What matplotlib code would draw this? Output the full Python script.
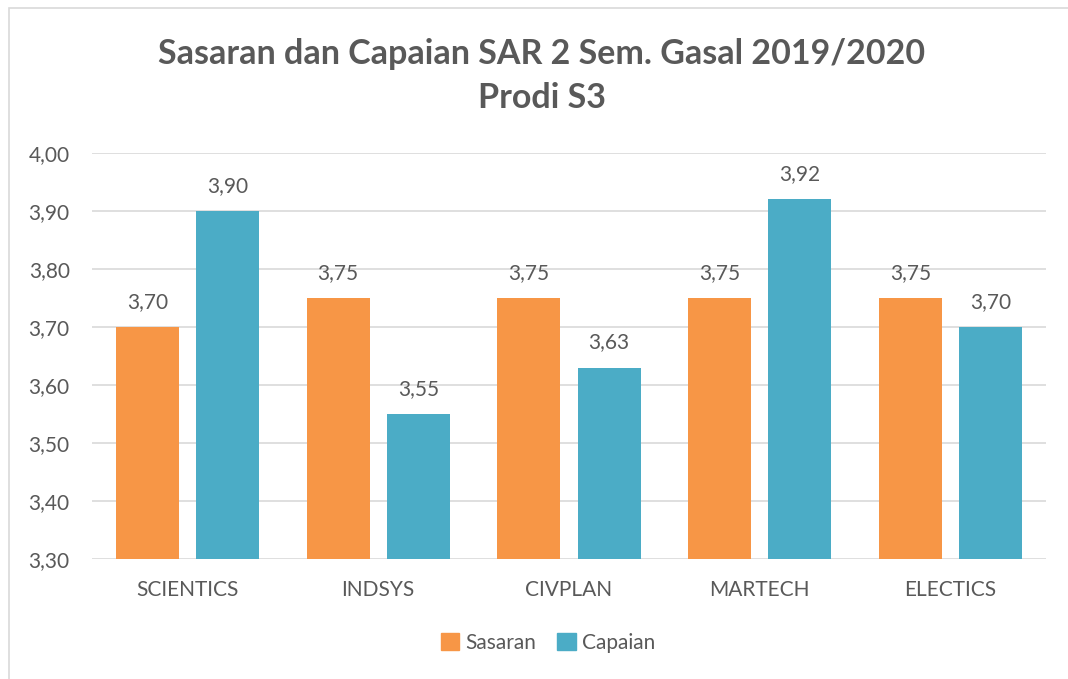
import matplotlib
matplotlib.use("Agg")
import matplotlib.pyplot as plt
from matplotlib.patches import Rectangle, Patch
import numpy as np

categories = ["SCIENTICS", "INDSYS", "CIVPLAN", "MARTECH", "ELECTICS"]
sasaran = [3.70, 3.75, 3.75, 3.75, 3.75]
capaian = [3.90, 3.55, 3.63, 3.92, 3.70]
yticks = [3.30, 3.40, 3.50, 3.60, 3.70, 3.80, 3.90, 4.00]
series_names = ["Sasaran", "Capaian"]
title = "Sasaran dan Capaian SAR 2 Sem. Gasal 2019/2020\nProdi S3"

plt.rcParams['font.family'] = ['Lato', 'DejaVu Sans']
TXT = "#595959"
ORANGE = "#F79646"
BLUE = "#4BACC6"

W, H = 1068, 679
fig = plt.figure(figsize=(W / 100, H / 100), dpi=100)
fig.patch.set_facecolor("white")

# chart border
fig.patches.append(Rectangle((9 / W, -0.1), 1.2, 1 - 8 / H + 0.1, transform=fig.transFigure,
                             fill=False, edgecolor="#D9D9D9", linewidth=1.2))

ax = fig.add_axes([92 / W, 1 - 559 / H, (1046 - 92) / W, (559 - 153) / H])
x = np.arange(len(categories))
bw = 0.33
off = 0.21
b1 = ax.bar(x - off, sasaran, bw, color=ORANGE, zorder=3)
b2 = ax.bar(x + off, capaian, bw, color=BLUE, zorder=3)

ax.set_ylim(3.30, 4.00)
ax.set_xlim(-0.5, len(categories) - 0.5)
ax.set_yticks(yticks)
ax.set_yticklabels([f"{v:.2f}".replace(".", ",") for v in yticks])
ax.set_xticks(x)
ax.set_xticklabels(categories)
ax.tick_params(axis="both", length=0, labelsize=15, colors=TXT)
ax.tick_params(axis="y", pad=16)
ax.tick_params(axis="x", pad=15)
ax.grid(axis="y", color="#D9D9D9", linewidth=1.2, zorder=0)
for s in ax.spines.values():
    s.set_visible(False)

for bars, vals in ((b1, sasaran), (b2, capaian)):
    for rect, v in zip(bars, vals):
        ax.annotate(f"{v:.2f}".replace(".", ","),
                    (rect.get_x() + rect.get_width() / 2, v),
                    xytext=(0, 11), textcoords="offset points",
                    ha="center", va="bottom", fontsize=15, color=TXT)

fig.text(542 / W, 1 - 76 / H, title, ha="center", va="center", fontsize=24.5,
         fontweight="bold", color=TXT, linespacing=1.45)

handles = [Patch(color=ORANGE), Patch(color=BLUE)]
fig.legend(handles, series_names, loc="center", bbox_to_anchor=(548 / W, 1 - 643 / H),
           ncol=2, frameon=False, fontsize=15, labelcolor=TXT,
           handlelength=0.9, handleheight=0.9, handletextpad=0.3, columnspacing=1.0)

fig.savefig("out.png", dpi=100)
